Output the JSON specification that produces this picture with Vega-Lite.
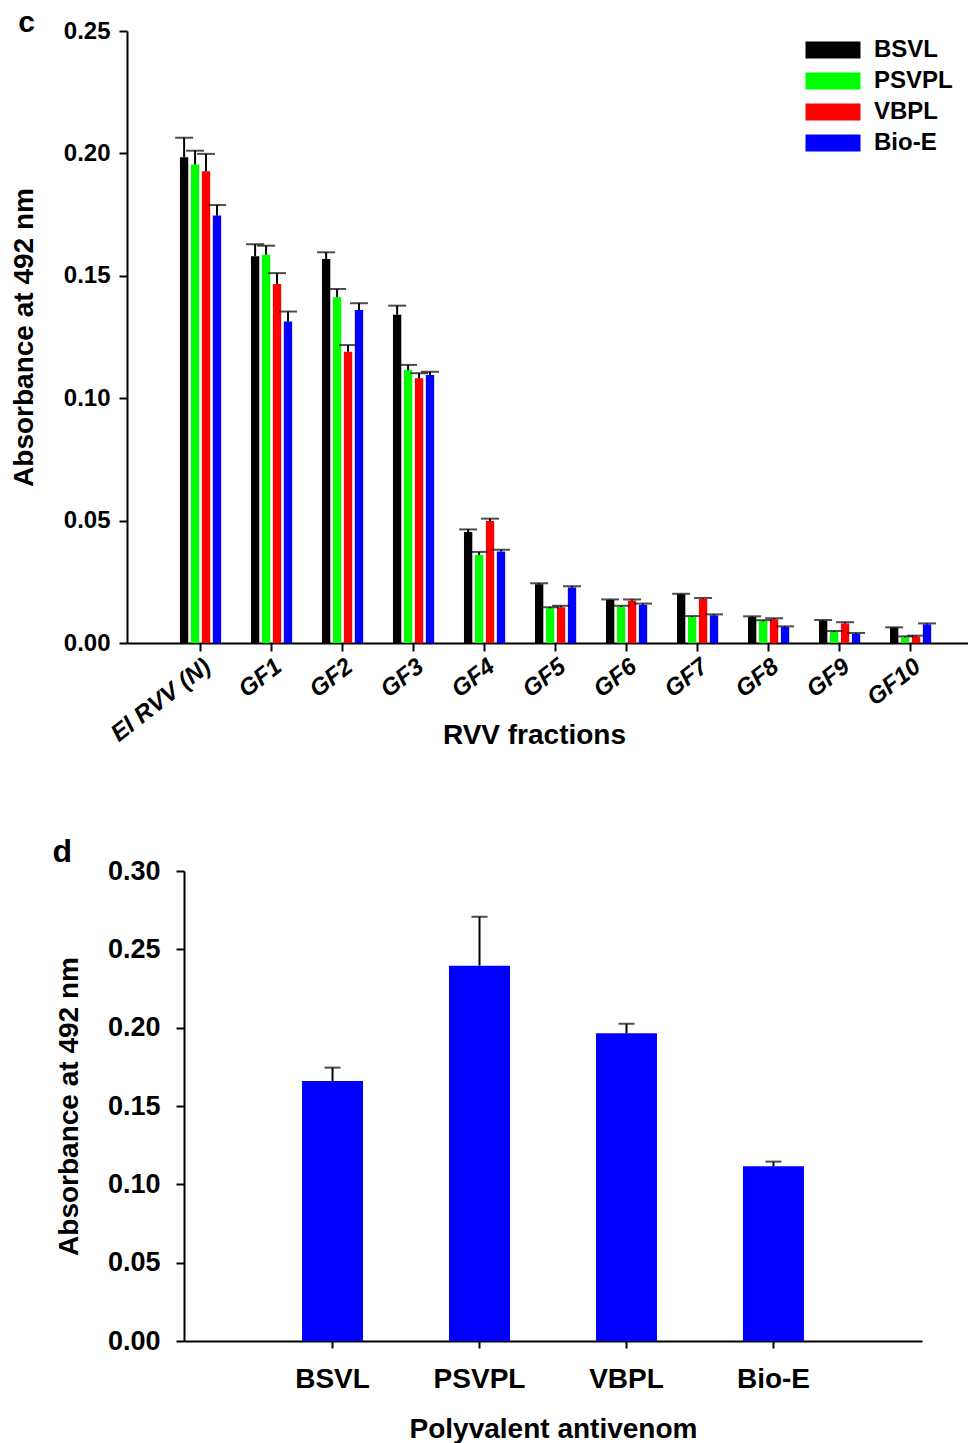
{
  "$schema": "https://vega.github.io/schema/vega-lite/v6.json",
  "background": "white",
  "padding": {"left": 10, "top": 8, "right": 0, "bottom": 0},
  "spacing": 87,
  "config": {
    "font": "Liberation Sans",
    "view": {"stroke": null},
    "axis": {
      "grid": false,
      "domainColor": "black",
      "domainWidth": 2,
      "tickColor": "black",
      "tickWidth": 2,
      "tickSize": 8,
      "labelColor": "black",
      "titleColor": "black",
      "labelFont": "Liberation Sans",
      "titleFont": "Liberation Sans",
      "labelFontWeight": "bold",
      "titleFontWeight": "bold"
    },
    "title": {"font": "Liberation Sans", "fontWeight": "bold", "color": "black"}
  },
  "datasets": {
    "fractions": [
      {"fraction": "El RVV (N)", "antivenom": "BSVL", "value": 0.1984, "upper": 0.2064},
      {"fraction": "El RVV (N)", "antivenom": "PSVPL", "value": 0.1955, "upper": 0.2011},
      {"fraction": "El RVV (N)", "antivenom": "VBPL", "value": 0.1927, "upper": 0.1998},
      {"fraction": "El RVV (N)", "antivenom": "Bio-E", "value": 0.1746, "upper": 0.1789},
      {"fraction": "GF1", "antivenom": "BSVL", "value": 0.158, "upper": 0.1629},
      {"fraction": "GF1", "antivenom": "PSVPL", "value": 0.1586, "upper": 0.1623},
      {"fraction": "GF1", "antivenom": "VBPL", "value": 0.1467, "upper": 0.1511},
      {"fraction": "GF1", "antivenom": "Bio-E", "value": 0.1313, "upper": 0.1354},
      {"fraction": "GF2", "antivenom": "BSVL", "value": 0.1569, "upper": 0.1596},
      {"fraction": "GF2", "antivenom": "PSVPL", "value": 0.1412, "upper": 0.1446},
      {"fraction": "GF2", "antivenom": "VBPL", "value": 0.119, "upper": 0.1217},
      {"fraction": "GF2", "antivenom": "Bio-E", "value": 0.136, "upper": 0.1388},
      {"fraction": "GF3", "antivenom": "BSVL", "value": 0.1341, "upper": 0.1378},
      {"fraction": "GF3", "antivenom": "PSVPL", "value": 0.1115, "upper": 0.1136},
      {"fraction": "GF3", "antivenom": "VBPL", "value": 0.1081, "upper": 0.1102},
      {"fraction": "GF3", "antivenom": "Bio-E", "value": 0.1095, "upper": 0.1108},
      {"fraction": "GF4", "antivenom": "BSVL", "value": 0.0453, "upper": 0.0464},
      {"fraction": "GF4", "antivenom": "PSVPL", "value": 0.0359, "upper": 0.0372},
      {"fraction": "GF4", "antivenom": "VBPL", "value": 0.0498, "upper": 0.0508},
      {"fraction": "GF4", "antivenom": "Bio-E", "value": 0.0374, "upper": 0.0381},
      {"fraction": "GF5", "antivenom": "BSVL", "value": 0.024, "upper": 0.0244},
      {"fraction": "GF5", "antivenom": "PSVPL", "value": 0.0142, "upper": 0.0146},
      {"fraction": "GF5", "antivenom": "VBPL", "value": 0.0146, "upper": 0.0152},
      {"fraction": "GF5", "antivenom": "Bio-E", "value": 0.0227, "upper": 0.0232},
      {"fraction": "GF6", "antivenom": "BSVL", "value": 0.0176, "upper": 0.0178},
      {"fraction": "GF6", "antivenom": "PSVPL", "value": 0.0147, "upper": 0.0152},
      {"fraction": "GF6", "antivenom": "VBPL", "value": 0.0173, "upper": 0.0178},
      {"fraction": "GF6", "antivenom": "Bio-E", "value": 0.0156, "upper": 0.0161},
      {"fraction": "GF7", "antivenom": "BSVL", "value": 0.0199, "upper": 0.0201},
      {"fraction": "GF7", "antivenom": "PSVPL", "value": 0.0106, "upper": 0.011},
      {"fraction": "GF7", "antivenom": "VBPL", "value": 0.018, "upper": 0.0184},
      {"fraction": "GF7", "antivenom": "Bio-E", "value": 0.0113, "upper": 0.0117},
      {"fraction": "GF8", "antivenom": "BSVL", "value": 0.0106, "upper": 0.0109},
      {"fraction": "GF8", "antivenom": "PSVPL", "value": 0.0089, "upper": 0.0093},
      {"fraction": "GF8", "antivenom": "VBPL", "value": 0.0097, "upper": 0.0101},
      {"fraction": "GF8", "antivenom": "Bio-E", "value": 0.0065, "upper": 0.0068},
      {"fraction": "GF9", "antivenom": "BSVL", "value": 0.0091, "upper": 0.0094},
      {"fraction": "GF9", "antivenom": "PSVPL", "value": 0.0045, "upper": 0.0049},
      {"fraction": "GF9", "antivenom": "VBPL", "value": 0.008, "upper": 0.0085},
      {"fraction": "GF9", "antivenom": "Bio-E", "value": 0.0037, "upper": 0.0041},
      {"fraction": "GF10", "antivenom": "BSVL", "value": 0.0063, "upper": 0.0064},
      {"fraction": "GF10", "antivenom": "PSVPL", "value": 0.0023, "upper": 0.0027},
      {"fraction": "GF10", "antivenom": "VBPL", "value": 0.0026, "upper": 0.003},
      {"fraction": "GF10", "antivenom": "Bio-E", "value": 0.0076, "upper": 0.008}
    ],
    "antivenoms": [
      {"antivenom": "BSVL", "value": 0.166, "upper": 0.1745},
      {"antivenom": "PSVPL", "value": 0.2396, "upper": 0.2708},
      {"antivenom": "VBPL", "value": 0.1964, "upper": 0.2025},
      {"antivenom": "Bio-E", "value": 0.1115, "upper": 0.1145}
    ]
  },
  "vconcat": [
    {
      "title": {"text": "c", "anchor": "start", "frame": "bounds", "fontSize": 30, "dx": 8, "dy": 19, "offset": 0},
      "width": 841,
      "height": 612,
      "data": {"name": "fractions"},
      "encoding": {
        "x": {
          "field": "fraction",
          "type": "nominal",
          "sort": ["El RVV (N)", "GF1", "GF2", "GF3", "GF4", "GF5", "GF6", "GF7", "GF8", "GF9", "GF10"],
          "scale": {"paddingInner": 0.42, "paddingOuter": 0.632, "align": 0.59},
          "axis": {
            "title": "RVV fractions",
            "labelAngle": -38,
            "labelFontStyle": "italic",
            "labelFontSize": 24,
            "labelPadding": 3,
            "titleFontSize": 28,
            "titleX": 407,
            "titleY": 78,
            "titleBaseline": "top"
          }
        },
        "xOffset": {
          "field": "antivenom",
          "type": "nominal",
          "sort": ["BSVL", "PSVPL", "VBPL", "Bio-E"],
          "scale": {"paddingInner": 0.24, "paddingOuter": 0}
        }
      },
      "layer": [
        {
          "mark": {"type": "bar"},
          "encoding": {
            "y": {
              "field": "value",
              "type": "quantitative",
              "scale": {"domain": [0, 0.25], "nice": false},
              "axis": {
                "values": [0, 0.05, 0.1, 0.15, 0.2, 0.25],
                "format": ".2f",
                "title": "Absorbance at 492 nm",
                "labelFontSize": 24,
                "labelPadding": 9,
                "titleFontSize": 28,
                "titlePadding": 25
              }
            },
            "color": {
              "field": "antivenom",
              "type": "nominal",
              "sort": ["BSVL", "PSVPL", "VBPL", "Bio-E"],
              "scale": {"domain": ["BSVL", "PSVPL", "VBPL", "Bio-E"], "range": ["#000000", "#00ff00", "#ff0000", "#0000ff"]},
              "legend": {
                "title": null,
                "orient": "none",
                "legendX": 675,
                "legendY": 7,
                "padding": 0,
                "symbolType": "M-1,-1H5.47V1H-1Z",
                "symbolSize": 289,
                "symbolStrokeWidth": 0,
                "labelOffset": 48,
                "labelFontSize": 24,
                "labelFontWeight": "bold",
                "labelColor": "black",
                "labelFont": "Liberation Sans",
                "rowPadding": 7
              }
            }
          }
        },
        {
          "mark": {"type": "rule", "color": "black", "strokeWidth": 2},
          "encoding": {
            "y": {"field": "value", "type": "quantitative"},
            "y2": {"field": "upper"}
          }
        },
        {
          "mark": {"type": "tick", "color": "black", "thickness": 2, "size": 18},
          "encoding": {
            "y": {"field": "upper", "type": "quantitative"}
          }
        }
      ]
    },
    {
      "title": {"text": "d", "anchor": "start", "frame": "bounds", "fontSize": 32, "dx": -3, "dy": 12, "offset": 0},
      "width": 795,
      "height": 470,
      "data": {"name": "antivenoms"},
      "encoding": {
        "x": {
          "field": "antivenom",
          "type": "nominal",
          "sort": ["BSVL", "PSVPL", "VBPL", "Bio-E"],
          "scale": {"range": [57, 795], "paddingInner": 0.585, "paddingOuter": 0.803},
          "axis": {
            "title": "Polyvalent antivenom",
            "labelAngle": 0,
            "labelFontSize": 28,
            "labelPadding": 17,
            "tickSize": 7,
            "titleFontSize": 28,
            "titlePadding": 22
          }
        }
      },
      "layer": [
        {
          "mark": {"type": "bar", "color": "#0000ff"},
          "encoding": {
            "y": {
              "field": "value",
              "type": "quantitative",
              "scale": {"domain": [0, 0.3], "nice": false},
              "axis": {
                "values": [0, 0.05, 0.1, 0.15, 0.2, 0.25, 0.3],
                "format": ".2f",
                "offset": -57,
                "title": "Absorbance at 492 nm",
                "labelFontSize": 27,
                "labelPadding": 16,
                "titleFontSize": 28,
                "titlePadding": 24
              }
            }
          }
        },
        {
          "mark": {"type": "rule", "color": "black", "strokeWidth": 2},
          "encoding": {
            "y": {"field": "value", "type": "quantitative"},
            "y2": {"field": "upper"}
          }
        },
        {
          "mark": {"type": "tick", "color": "black", "thickness": 2, "size": 16},
          "encoding": {
            "y": {"field": "upper", "type": "quantitative"}
          }
        }
      ]
    }
  ]
}
